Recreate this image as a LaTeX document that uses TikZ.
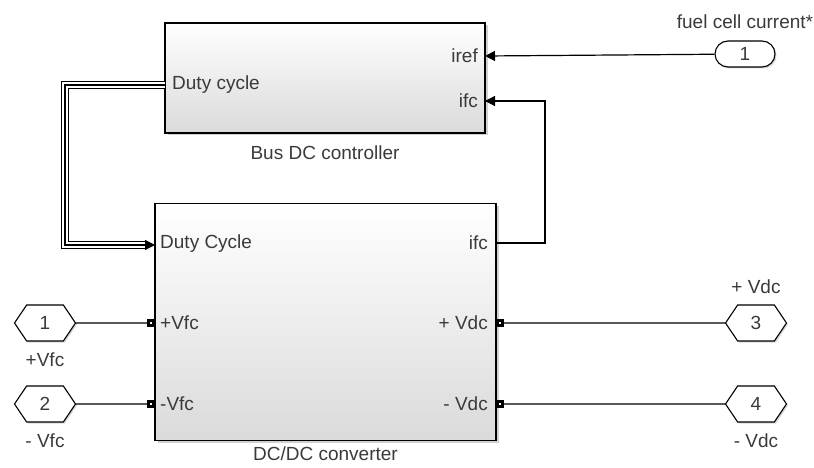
\documentclass[tikz,border=0pt]{standalone}
\usepackage{fontspec}
\setmainfont{Liberation Sans}
\usetikzlibrary{arrows.meta,positioning,shapes.symbols,shadows}
\definecolor{sltext}{RGB}{58,58,58}
\definecolor{slfill}{RGB}{218,218,218}
\definecolor{slshadow}{RGB}{120,120,120}

\begin{document}
\begin{tikzpicture}[x=1pt, y=-1pt,
  font=\fontsize{19}{22}\selectfont,
  subsys/.style={
    rectangle, draw=black, line width=1.4pt,
    top color=white, bottom color=slfill,
    drop shadow={shadow xshift=2.5pt, shadow yshift=-2.5pt, fill=slshadow, opacity=0.35},
    inner sep=0pt
  },
  hexport/.style={
    signal, signal to=east and west, signal pointer angle=112,
    draw=black, line width=1.1pt, fill=white,
    minimum width=61pt, minimum height=36pt, inner sep=0pt,
    text=sltext,
    drop shadow={shadow xshift=1.5pt, shadow yshift=-1.5pt, fill=slshadow, opacity=0.3}
  },
  inport/.style={
    rectangle, rounded corners=13pt,
    draw=black, line width=1.1pt, fill=white,
    minimum width=60pt, minimum height=26pt, inner sep=0pt,
    text=sltext,
    drop shadow={shadow xshift=1.5pt, shadow yshift=-1.5pt, fill=slshadow, opacity=0.3}
  },
  physport/.style={rectangle, draw=black, line width=2.2pt, fill=white, minimum size=5pt, inner sep=0pt},
  portlbl/.style={inner sep=0pt, text=sltext},
  blklbl/.style={inner sep=0pt, text=sltext},
  wire/.style={line width=1.2pt, draw=black},
  sig/.style={-{Triangle[length=10pt,width=10pt]}, line width=1.2pt, draw=black},
  busline/.style={
    line width=1.1pt, draw=black, line join=miter,
    preaction={draw, black, line width=8.2pt},
    preaction={draw, white, line width=6pt}
  }
]
\useasboundingbox (0,0) rectangle (814,468);

% subsystems
\node[subsys, minimum width=320pt, minimum height=110pt] (busctl) at (325,78) {};
\node[blklbl, below=12pt of busctl] (busname) {Bus DC controller};

\node[subsys, minimum width=341pt, minimum height=237pt] (dcdc) at (325.5,322) {};
\node[blklbl, below=5pt of dcdc] (dcdcname) {DC/DC converter};

% port labels
\node[portlbl, anchor=west] (busduty) at (172,85)  {Duty cycle};
\node[portlbl, anchor=east] (busiref) at (478,56)  {iref};
\node[portlbl, anchor=east] (busifc)  at (478,101) {ifc};

\node[portlbl, anchor=west] (dcduty) at (160,244) {Duty Cycle};
\node[portlbl, anchor=west] (dcpvfc) at (160,323) {+Vfc};
\node[portlbl, anchor=west] (dcnvfc) at (160,404) {-Vfc};
\node[portlbl, anchor=east] (dcifc)  at (488,243) {ifc};
\node[portlbl, anchor=east] (dcpvdc) at (488,323) {+ Vdc};
\node[portlbl, anchor=east] (dcnvdc) at (488,404) {- Vdc};

\coordinate (irefin)  at (485,56);
\coordinate (ifcin)   at (485,101);
\coordinate (dutyout) at (165,85);
\coordinate (dutyin)  at (155,245);
\coordinate (busend)  at (147,245);
\coordinate (ifcout)  at (496,243);

% physical ports
\node[physport] (pvfcp) at (151,323) {};
\node[physport] (nvfcp) at (151,404) {};
\node[physport] (pvdcp) at (500,323) {};
\node[physport] (nvdcp) at (500,404) {};

% outer ports
\node[inport] (fuelin) at (745,54) {1};
\node[blklbl, above=12pt of fuelin] (fuelname) {fuel cell current*};

\node[hexport] (hexone)   at (45,323)  {1};
\node[hexport] (hextwo)   at (45,404)  {2};
\node[hexport] (hexthree) at (756,323) {3};
\node[hexport] (hexfour)  at (756,404) {4};
\node[blklbl, below=11pt of hexone]   {+Vfc};
\node[blklbl, below=11pt of hextwo]   {- Vfc};
\node[blklbl, above=11pt of hexthree] {+ Vdc};
\node[blklbl, below=11pt of hexfour]  {- Vdc};

% connections
\draw[sig] (fuelin) -- (irefin);
\draw[sig] (ifcout) -- ++(49,0) |- (ifcin);
\draw[busline] (dutyout) -- ++(-100,0) |- (busend);
\draw[sig] (143,245) -- (dutyin);

\draw[wire] (hexone) -- (pvfcp);
\draw[wire] (hextwo) -- (nvfcp);
\draw[wire] (pvdcp) -- (hexthree);
\draw[wire] (nvdcp) -- (hexfour);
\end{tikzpicture}
\end{document}
